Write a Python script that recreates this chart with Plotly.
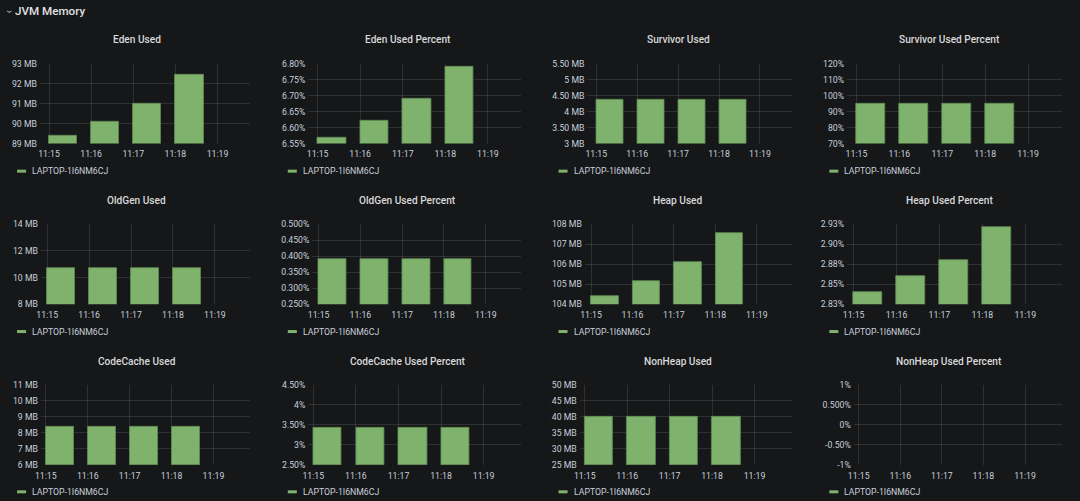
import plotly.graph_objects as go

# ---------------- data ----------------
SERIES_NAME = "LAPTOP-1I6NM6CJ"
HEADER = "JVM Memory"
TIMES = ["2024-01-01 11:15:00", "2024-01-01 11:16:00",
         "2024-01-01 11:17:00", "2024-01-01 11:18:00"]
TICK_TIMES = ["2024-01-01 11:15:00", "2024-01-01 11:16:00", "2024-01-01 11:17:00",
              "2024-01-01 11:18:00", "2024-01-01 11:19:00"]
TICK_TIME_LABELS = ["11:15", "11:16", "11:17", "11:18", "11:19"]

TITLES = ["Eden Used", "Eden Used Percent", "Survivor Used", "Survivor Used Percent",
          "OldGen Used", "OldGen Used Percent", "Heap Used", "Heap Used Percent",
          "CodeCache Used", "CodeCache Used Percent", "NonHeap Used", "NonHeap Used Percent"]

eden_used = [89.37, 90.07, 91.02, 92.45]            # MB
eden_used_pct = [6.569, 6.621, 6.691, 6.792]        # %
survivor_used = [4.375, 4.375, 4.375, 4.375]        # MB
survivor_used_pct = [94.9, 94.9, 94.9, 94.9]        # %
oldgen_used = [10.72, 10.72, 10.72, 10.72]          # MB
oldgen_used_pct = [0.39, 0.39, 0.39, 0.39]          # %
heap_used = [104.43, 105.15, 106.10, 107.53]        # MB
heap_used_pct = [2.840, 2.860, 2.880, 2.921]        # %
codecache_used = [8.41, 8.41, 8.41, 8.41]           # MB
codecache_used_pct = [3.425, 3.425, 3.425, 3.425]   # %
nonheap_used = [39.9, 39.9, 39.9, 39.9]             # MB
nonheap_used_pct = [None, None, None, None]         # % (no data)

SERIES = [eden_used, eden_used_pct, survivor_used, survivor_used_pct,
          oldgen_used, oldgen_used_pct, heap_used, heap_used_pct,
          codecache_used, codecache_used_pct, nonheap_used, nonheap_used_pct]

Y_TICKS = [
    [89, 90, 91, 92, 93],
    [6.55, 6.60, 6.65, 6.70, 6.75, 6.80],
    [3, 3.5, 4, 4.5, 5, 5.5],
    [70, 80, 90, 100, 110, 120],
    [8, 10, 12, 14],
    [0.25, 0.30, 0.35, 0.40, 0.45, 0.50],
    [104, 105, 106, 107, 108],
    [2.825, 2.85, 2.875, 2.90, 2.925],
    [6, 7, 8, 9, 10, 11],
    [2.5, 3, 3.5, 4, 4.5],
    [25, 30, 35, 40, 45, 50],
    [-1, -0.5, 0, 0.5, 1],
]
Y_TICK_LABELS = [
    ["89 MB", "90 MB", "91 MB", "92 MB", "93 MB"],
    ["6.55%", "6.60%", "6.65%", "6.70%", "6.75%", "6.80%"],
    ["3 MB", "3.50 MB", "4 MB", "4.50 MB", "5 MB", "5.50 MB"],
    ["70%", "80%", "90%", "100%", "110%", "120%"],
    ["8 MB", "10 MB", "12 MB", "14 MB"],
    ["0.250%", "0.300%", "0.350%", "0.400%", "0.450%", "0.500%"],
    ["104 MB", "105 MB", "106 MB", "107 MB", "108 MB"],
    ["2.83%", "2.85%", "2.88%", "2.90%", "2.93%"],
    ["6 MB", "7 MB", "8 MB", "9 MB", "10 MB", "11 MB"],
    ["2.50%", "3%", "3.50%", "4%", "4.50%"],
    ["25 MB", "30 MB", "35 MB", "40 MB", "45 MB", "50 MB"],
    ["-1%", "-0.50%", "0%", "0.500%", "1%"],
]

# ---------------- layout / style ----------------
W, H = 1080, 501
BG = "#161719"
GRID = "rgba(255,255,255,0.11)"
TICK_COLOR = "#c7d0d9"
TITLE_COLOR = "#d8d9da"
BAR_COLOR = "#7EB26D"
FONT = "Roboto"

# pixel layout (as seen in the reference picture)
PANEL_X0 = [0, 270, 540, 810]
PLOT_LEFT = [[38.3, 306, 584.3, 843.3],
             [39.3, 310, 581.7, 843.3],
             [39.3, 306, 576.7, 850]]
PLOT_RIGHT = [248.3, 518.3, 788.3, 1057.3]
ROW_TOP = [63.3, 224, 385]
ROW_BOTTOM = [143.3, 304.3, 465.3]
ROW_TITLE_Y = [39.3, 200.3, 361.3]
ROW_LEGEND_Y = [171, 331.7, 492.3]
ROW_RANGE = [("2024-01-01 11:14:47", "2024-01-01 11:19:47"),
             ("2024-01-01 11:14:51", "2024-01-01 11:19:51"),
             ("2024-01-01 11:14:53", "2024-01-01 11:19:53")]

# the captured picture shows the page slightly shrunk around its centre;
# lay out with that correction so the picture matches the reference
SX, SY = 0.9917, 0.982
FS = 1.0 / ((SX + SY) / 2)


def px(x):
    return (W / 2 + (x - W / 2) / SX) / W


def py(y):
    return 1 - (H / 2 + (y - H / 2) / SY) / H


fig = go.Figure()
annotations = []
shapes = []

for i in range(12):
    r, c = divmod(i, 4)
    n = i + 1
    xa = "xaxis" if n == 1 else f"xaxis{n}"
    ya = "yaxis" if n == 1 else f"yaxis{n}"
    xref = "x" if n == 1 else f"x{n}"
    yref = "y" if n == 1 else f"y{n}"

    fig.add_trace(go.Bar(
        x=TIMES, y=SERIES[i], name=SERIES_NAME, xaxis=xref, yaxis=yref,
        width=40000, offset=0,
        marker=dict(color=BAR_COLOR, line=dict(color="#5f8a52", width=0.8)),
        showlegend=False, hoverinfo="skip",
    ))

    yt = Y_TICKS[i]
    fig.update_layout(**{
        xa: dict(
            domain=[px(PLOT_LEFT[r][c]), px(PLOT_RIGHT[c])],
            anchor=yref, type="date", range=list(ROW_RANGE[r]),
            tickvals=TICK_TIMES, ticktext=TICK_TIME_LABELS,
            showgrid=True, gridcolor=GRID, gridwidth=1,
            zeroline=False, showline=False, ticks="",
            ticklabelstandoff=4,
            tickfont=dict(family=FONT, size=8.6 * FS, color=TICK_COLOR),
            fixedrange=True,
        ),
        ya: dict(
            domain=[py(ROW_BOTTOM[r]), py(ROW_TOP[r])],
            anchor=xref, range=[yt[0], yt[-1]],
            tickvals=yt, ticktext=Y_TICK_LABELS[i],
            showgrid=True, gridcolor=GRID, gridwidth=1,
            zeroline=False, showline=False, ticks="",
            ticklabelstandoff=2,
            tickfont=dict(family=FONT, size=8.6 * FS, color=TICK_COLOR),
            fixedrange=True,
        ),
    })

    # panel title
    annotations.append(dict(
        text=TITLES[i], xref="paper", yref="paper",
        x=px(PANEL_X0[c] + 135), y=py(ROW_TITLE_Y[r]),
        xanchor="center", yanchor="middle", showarrow=False,
        font=dict(family=FONT, size=10 * FS, color=TITLE_COLOR, weight=500),
    ))
    # legend
    shapes.append(dict(
        type="rect", xref="paper", yref="paper",
        x0=px(PANEL_X0[c] + 15.5), x1=px(PANEL_X0[c] + 24.5),
        y0=py(ROW_LEGEND_Y[r] + 1.5), y1=py(ROW_LEGEND_Y[r] - 1.5),
        fillcolor=BAR_COLOR, line=dict(width=0),
    ))
    annotations.append(dict(
        text=SERIES_NAME, xref="paper", yref="paper",
        x=px(PANEL_X0[c] + 28.5), y=py(ROW_LEGEND_Y[r]),
        xanchor="left", yanchor="middle", showarrow=False,
        font=dict(family=FONT, size=8.6 * FS, color=TICK_COLOR),
    ))

# dashboard row header
annotations.append(dict(
    text="›", xref="paper", yref="paper", x=px(8), y=py(11),
    xanchor="center", yanchor="middle", showarrow=False, textangle=90,
    font=dict(family=FONT, size=11 * FS, color=TITLE_COLOR),
))
annotations.append(dict(
    text=HEADER, xref="paper", yref="paper", x=px(11.5), y=py(11),
    xanchor="left", yanchor="middle", showarrow=False,
    font=dict(family=FONT, size=11.5 * FS, color="#e0e1e3", weight=500),
))

fig.update_layout(
    width=W, height=H,
    margin=dict(l=0, r=0, t=0, b=0),
    paper_bgcolor=BG, plot_bgcolor=BG,
    annotations=annotations, shapes=shapes,
    showlegend=False, bargap=0,
)

POST = (
    "var de=document.documentElement, b=document.body;"
    "de.style.margin='0';de.style.padding='0';de.style.overflow='hidden';de.style.background='%s';"
    "b.style.margin='0';b.style.padding='0';b.style.overflow='hidden';b.style.background='%s';"
    "var gd=document.getElementById('{plot_id}');"
    "gd.style.position='fixed';gd.style.left='0px';gd.style.top='0px';"
    "window.scrollTo(0,0);"
) % (BG, BG)

fig.write_html("out.html", config={"displayModeBar": False}, post_script=POST)
